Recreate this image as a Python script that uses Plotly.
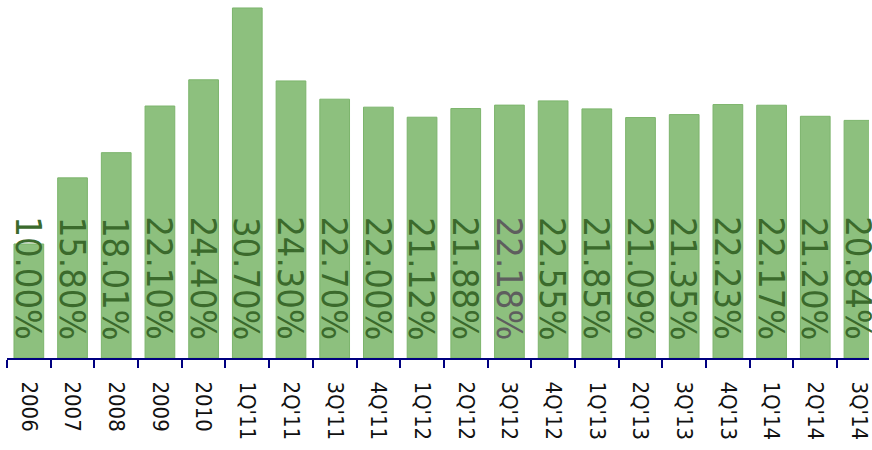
import plotly.graph_objects as go

# Period labels and ratio values (%)
periods = ["2006", "2007", "2008", "2009", "2010", "1Q'11", "2Q'11", "3Q'11", "4Q'11",
           "1Q'12", "2Q'12", "3Q'12", "4Q'12", "1Q'13", "2Q'13", "3Q'13", "4Q'13",
           "1Q'14", "2Q'14", "3Q'14"]
ratios = [10.00, 15.80, 18.01, 22.10, 24.40, 30.70, 24.30, 22.70, 22.00, 21.12,
          21.88, 22.18, 22.55, 21.85, 21.09, 21.35, 22.23, 22.17, 21.20, 20.84]
label_colors = ["#3b6a2c"] * len(periods)
label_colors[periods.index("3Q'12")] = "#5e5e5e"

BAR_FILL = "#8dc07e"
BAR_EDGE = "#7cb46c"
AXIS_NAVY = "#000080"
FONT = "DejaVu Sans Condensed, DejaVu Sans, sans-serif"

fig = go.Figure()
fig.add_trace(go.Bar(
    x=periods,
    y=ratios,
    width=0.68,
    marker=dict(color=BAR_FILL, line=dict(color=BAR_EDGE, width=1)),
    hoverinfo="skip",
))

# Rotated value labels sitting in a common band near the base of the bars
# (positioned by category index, since year names would parse as numbers)
for i, (v, c) in enumerate(zip(ratios, label_colors)):
    fig.add_annotation(
        x=i, y=7.0, xref="x", yref="y",
        text=f"{v:.2f}%", textangle=90, showarrow=False,
        font=dict(family=FONT, size=36, color=c),
        xanchor="center", yanchor="middle",
    )

fig.update_layout(
    width=872, height=450,
    margin=dict(l=7, r=0, t=0, b=92),
    paper_bgcolor="white", plot_bgcolor="white",
    showlegend=False,
)
fig.update_xaxes(
    type="category",
    range=[-0.5, 19.23],
    tickangle=90,
    tickfont=dict(family=FONT, size=22, color="#111111"),
    ticks="outside", tickson="boundaries", ticklen=8, tickwidth=2, tickcolor=AXIS_NAVY,
    showline=True, linecolor=AXIS_NAVY, linewidth=2,
    showgrid=False, zeroline=False,
    ticklabelstandoff=17,
)
fig.update_yaxes(
    range=[0, 31.4],
    visible=False, showgrid=False, zeroline=False,
)

fig.write_html("out.html")
